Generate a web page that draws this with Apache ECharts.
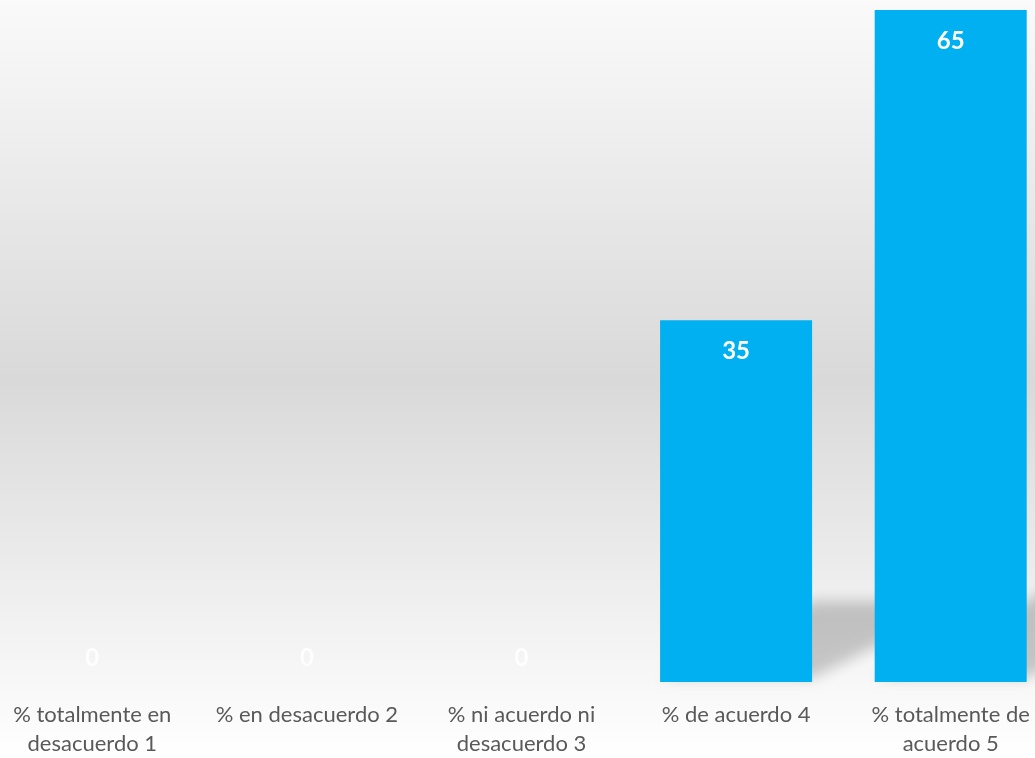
<!DOCTYPE html>
<html>
<head>
<meta charset="utf-8">
<script src="https://cdn.jsdelivr.net/npm/echarts@6/dist/echarts.min.js"></script>
<style>
html,body{margin:0;padding:0;overflow:hidden;width:1035px;height:758px;background:#fff;}
#chart{width:1073px;height:758px;margin-left:-15px;}
</style>
</head>
<body>
<div id="chart"></div>
<script>
const categories = ['% totalmente en\ndesacuerdo 1', '% en desacuerdo 2', '% ni acuerdo ni\ndesacuerdo 3', '% de acuerdo 4', '% totalmente de\nacuerdo 5'];
const values = [0, 0, 0, 35, 65];

const chart = echarts.init(document.getElementById('chart'));
const fontFam = 'Lato, Open Sans, sans-serif';
const BAR_W = 152;
const OFF = 3000;
const data = values.map(v => v === 0 ? {
  value: v,
  label: { position: 'top', distance: 12, color: 'rgba(255,255,255,0.85)' }
} : { value: v });

const shadowData = values.map((v, i) => [i, v]);

chart.setOption({
  backgroundColor: {
    type: 'linear', x: 0, y: 0, x2: 0, y2: 1,
    colorStops: [
      { offset: 0, color: '#fafafa' },
      { offset: 0.5, color: '#d9d9d9' },
      { offset: 1, color: '#ffffff' }
    ]
  },
  grid: { left: 0, right: 0, top: 10, bottom: 65 },
  xAxis: {
    type: 'category',
    data: categories,
    axisLine: { show: false },
    axisTick: { show: false },
    axisLabel: {
      color: '#595959',
      fontSize: 22,
      fontFamily: fontFam,
      lineHeight: 29,
      margin: 18,
      interval: 0
    }
  },
  yAxis: {
    type: 'value', min: 0, max: 65, show: false,
    splitLine: { show: false }
  },
  series: [{
    type: 'custom',
    z: 1,
    silent: true,
    clip: false,
    data: shadowData,
    renderItem: function (params, api) {
      const idx = api.value(0);
      const v = api.value(1);
      if (!v) return null;
      const base = api.coord([idx, 0]);
      const far = api.coord([idx, 5 + v * 0.08]);
      const h = base[1] - far[1];
      const k = h * 1.9;
      const x0 = base[0] - BAR_W / 2 - OFF, x1 = base[0] + BAR_W / 2 - OFF;
      return {
        type: 'polygon',
        shape: { points: [[x0, base[1] - 4], [x1, base[1] - 4], [x1 + k, far[1]], [x0 + k, far[1]]] },
        style: {
          fill: '#000',
          shadowBlur: 14,
          shadowOffsetX: OFF,
          shadowColor: 'rgba(0,0,0,0.2)'
        }
      };
    }
  }, {
    type: 'bar',
    z: 2,
    data: data,
    barWidth: BAR_W,
    itemStyle: { color: '#00b0f0' },
    label: {
      show: true,
      position: 'insideTop',
      distance: 19,
      color: '#ffffff',
      fontWeight: 'bold',
      fontSize: 24,
      fontFamily: fontFam
    }
  }]
});
</script>
</body>
</html>
